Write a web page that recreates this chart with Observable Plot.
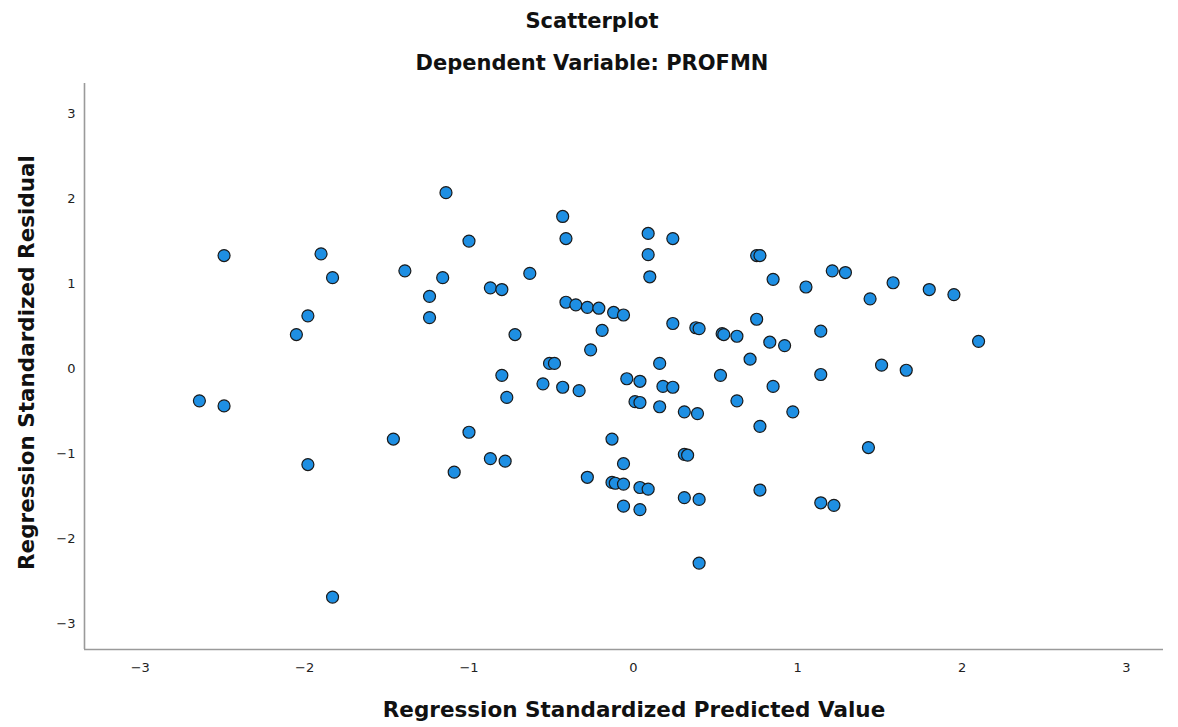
<!DOCTYPE html>
<html>
<head>
<meta charset="utf-8">
<script src="https://cdn.jsdelivr.net/npm/d3@7"></script>
<script src="https://cdn.jsdelivr.net/npm/@observablehq/plot@0.6"></script>
<style>
  html, body { margin: 0; padding: 0; background: #fff; }
  #wrap { width: 1178px; height: 727px; position: relative; overflow: hidden; }
  #head { position: relative; width: 1178px; height: 80px; font-family: "DejaVu Sans", sans-serif; font-weight: bold; color: #111; }
  #title { position: absolute; left: 3px; width: 1178px; top: 9px; text-align: center; font-size: 21px; }
  #subtitle { position: absolute; left: 3px; width: 1178px; top: 51px; text-align: center; font-size: 21px; }
  #chart svg { display: block; }
</style>
</head>
<body>
<div id="wrap">
  <div id="head">
    <div id="title"></div>
    <div id="subtitle"></div>
  </div>
  <div id="chart"></div>
</div>
<script>
const titleText = "Scatterplot";
const subtitleText = "Dependent Variable: PROFMN";
const xLabel = "Regression Standardized Predicted Value";
const yLabel = "Regression Standardized Residual";
const xTicks = [-3, -2, -1, 0, 1, 2, 3];
const yTicks = [-3, -2, -1, 0, 1, 2, 3];

// Regression standardized predicted values
const predicted = [
  -2.49, -2.64, -2.49, -1.90, -1.83, -1.98, -2.05, -1.98, -1.83, -1.39,
  -1.24, -1.24, -1.16, -1.14, -1.00, -1.46, -1.00, -1.09, -0.87, -0.80,
  -0.63, -0.72, -0.80, -0.77, -0.87, -0.78, -0.43, -0.41, -0.41, -0.35,
  -0.28, -0.21, -0.12, -0.06, -0.19, -0.26, -0.51, -0.48, -0.55, -0.43,
  -0.33, 0.09, 0.24, 0.09, 0.10, 0.24, 0.38, 0.40, 0.16, -0.04,
  0.04, 0.18, 0.24, 0.01, 0.04, 0.16, 0.31, 0.39, -0.13, -0.06,
  -0.28, -0.13, -0.11, -0.06, 0.04, 0.09, -0.06, 0.04, 0.31, 0.40,
  0.31, 0.33, 0.40, 0.75, 0.77, 0.85, 1.05, 1.21, 1.29, 1.44,
  1.58, 1.80, 1.95, 2.10, 0.54, 0.55, 0.63, 0.75, 0.83, 0.92,
  0.71, 1.14, 0.53, 0.85, 0.63, 0.97, 1.14, 1.51, 1.66, 0.77,
  0.77, 1.14, 1.22, 1.43
];
// Regression standardized residuals
const residual = [
  1.33, -0.38, -0.44, 1.35, 1.07, 0.62, 0.40, -1.13, -2.69, 1.15,
  0.85, 0.60, 1.07, 2.07, 1.50, -0.83, -0.75, -1.22, 0.95, 0.93,
  1.12, 0.40, -0.08, -0.34, -1.06, -1.09, 1.79, 1.53, 0.78, 0.75,
  0.72, 0.71, 0.66, 0.63, 0.45, 0.22, 0.06, 0.06, -0.18, -0.22,
  -0.26, 1.59, 1.53, 1.34, 1.08, 0.53, 0.48, 0.47, 0.06, -0.12,
  -0.15, -0.21, -0.22, -0.39, -0.40, -0.45, -0.51, -0.53, -0.83, -1.12,
  -1.28, -1.34, -1.35, -1.36, -1.40, -1.42, -1.62, -1.66, -1.52, -1.54,
  -1.01, -1.02, -2.29, 1.33, 1.33, 1.05, 0.96, 1.15, 1.13, 0.82,
  1.01, 0.93, 0.87, 0.32, 0.41, 0.40, 0.38, 0.58, 0.31, 0.27,
  0.11, 0.44, -0.08, -0.21, -0.38, -0.51, -0.07, 0.04, -0.02, -0.68,
  -1.43, -1.58, -1.61, -0.93
];

const xDomain = [-3.339, 3.225];
const yDomain = [-3.307, 3.355];

document.getElementById("title").textContent = titleText;
document.getElementById("subtitle").textContent = subtitleText;

const rows = predicted.map((p, i) => ({predicted: p, residual: residual[i]}));
const fmt = d => String(d).replace("-", "\u2212");

const chart = Plot.plot({
  width: 1178,
  height: 647,
  marginLeft: 84,
  marginRight: 15,
  marginTop: 3,
  marginBottom: 78,
  style: {fontFamily: "DejaVu Sans, sans-serif", fontSize: "13px", color: "#222", background: "#fff"},
  x: {domain: xDomain, ticks: xTicks, tickSize: 0, label: null, tickFormat: fmt},
  y: {domain: yDomain, ticks: yTicks, tickSize: 0, label: null, tickFormat: fmt},
  marks: [
    Plot.ruleX([xDomain[0]], {stroke: "#9a9a9a", strokeWidth: 1.6}),
    Plot.ruleY([yDomain[0]], {stroke: "#9a9a9a", strokeWidth: 1.6}),
    Plot.axisX({ticks: xTicks, tickSize: 0, tickPadding: 13, label: null, fontSize: 13, tickFormat: fmt}),
    Plot.axisY({ticks: yTicks, tickSize: 0, tickPadding: 9, label: null, fontSize: 13, tickFormat: fmt}),
    Plot.dot(rows, {x: "predicted", y: "residual", r: 6, fill: "#1e8fe3", stroke: "#1a1a1a", strokeWidth: 1.2}),
    Plot.text([xLabel], {frameAnchor: "bottom", dx: 10, dy: 61, text: d => d, fontSize: 21.5, fontWeight: "bold", fill: "#111", lineAnchor: "middle", textAnchor: "middle"}),
    Plot.text([yLabel], {frameAnchor: "left", dx: -57, dy: -4, rotate: -90, text: d => d, fontSize: 21.5, fontWeight: "bold", fill: "#111", lineAnchor: "middle", textAnchor: "middle"})
  ]
});
document.getElementById("chart").appendChild(chart);
</script>
</body>
</html>
